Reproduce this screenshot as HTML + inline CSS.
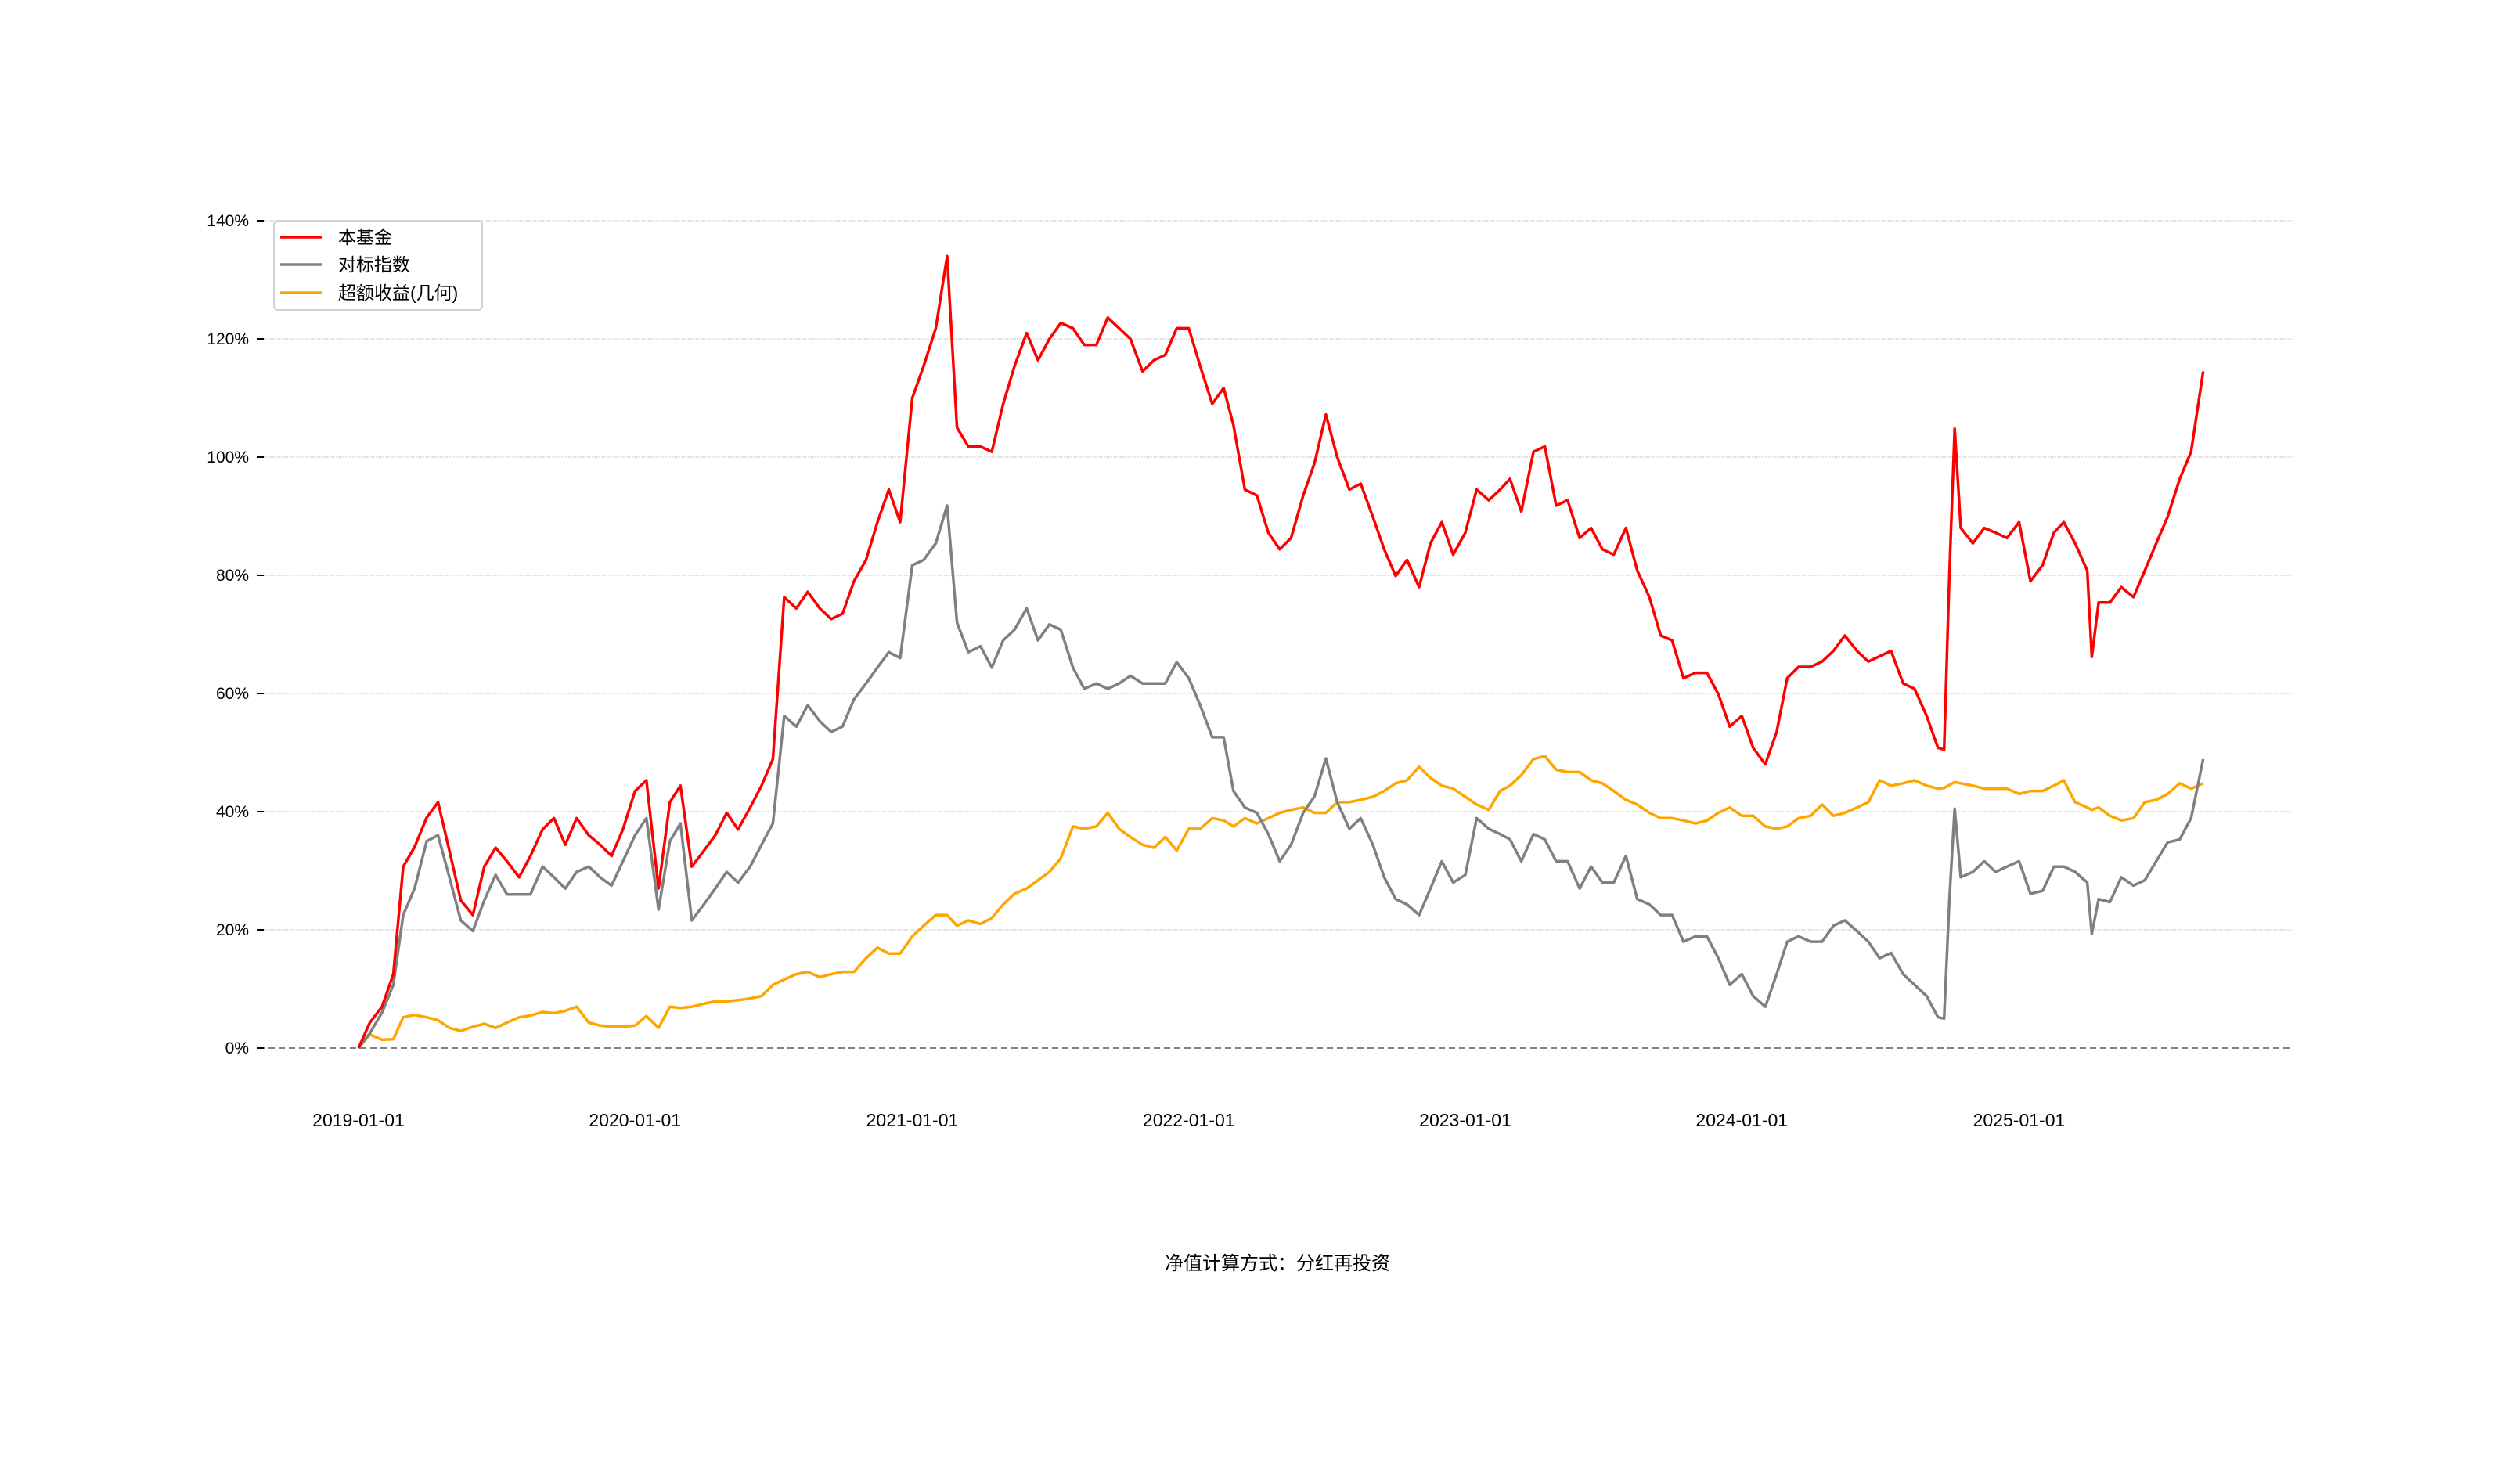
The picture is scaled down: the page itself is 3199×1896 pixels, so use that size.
<!DOCTYPE html>
<html><head><meta charset="utf-8"><style>
html,body{margin:0;padding:0;background:#fff;}
svg{display:block;font-family:"Liberation Sans","Noto Sans CJK SC",sans-serif;}
</style></head><body>
<svg id="chart" width="3199" height="1896" viewBox="0 0 3199 1896" xmlns="http://www.w3.org/2000/svg">
<rect width="3199" height="1896" fill="#fff"/>
<g id="grid"></g><g id="yaxis"></g><g id="xaxis"></g><g id="series"></g>
<g>
<rect x="350" y="282" width="266" height="114" rx="5" fill="#fff" fill-opacity="0.8" stroke="#d0d0d0" stroke-width="2"/>
<g><line x1="358" y1="303" x2="412" y2="303" stroke="#ff0000" stroke-width="3.5"/><text x="432" y="311" font-size="23">本基金</text></g>
<g><line x1="358" y1="338" x2="412" y2="338" stroke="#808080" stroke-width="3.5"/><text x="432" y="346" font-size="23">对标指数</text></g>
<g><line x1="358" y1="374" x2="412" y2="374" stroke="#ffa500" stroke-width="3.5"/><text x="432" y="382" font-size="23">超额收益(几何)</text></g>
</g>
<text x="1632" y="1622" font-size="24" text-anchor="middle">净值计算方式：分红再投资</text>
</svg>
<script>
const dates=["2019-01-01","2019-01-16","2019-02-01","2019-02-16","2019-03-01","2019-03-16","2019-04-01","2019-04-16","2019-05-01","2019-05-16","2019-06-01","2019-06-16","2019-07-01","2019-07-16","2019-08-01","2019-08-16","2019-09-01","2019-09-16","2019-10-01","2019-10-16","2019-11-01","2019-11-16","2019-12-01","2019-12-16",
"2020-01-01","2020-01-16","2020-02-01","2020-02-16","2020-03-01","2020-03-16","2020-04-01","2020-04-16","2020-05-01","2020-05-16","2020-06-01","2020-06-16","2020-07-01","2020-07-16","2020-08-01","2020-08-16","2020-09-01","2020-09-16","2020-10-01","2020-10-16","2020-11-01","2020-11-16","2020-12-01","2020-12-16",
"2021-01-01","2021-01-16","2021-02-01","2021-02-16","2021-03-01","2021-03-16","2021-04-01","2021-04-16","2021-05-01","2021-05-16","2021-06-01","2021-06-16","2021-07-01","2021-07-16","2021-08-01","2021-08-16","2021-09-01","2021-09-16","2021-10-01","2021-10-16","2021-11-01","2021-11-16","2021-12-01","2021-12-16",
"2022-01-01","2022-01-16","2022-02-01","2022-02-16","2022-03-01","2022-03-16","2022-04-01","2022-04-16","2022-05-01","2022-05-16","2022-06-01","2022-06-16","2022-07-01","2022-07-16","2022-08-01","2022-08-16","2022-09-01","2022-09-16","2022-10-01","2022-10-16","2022-11-01","2022-11-16","2022-12-01","2022-12-16",
"2023-01-01","2023-01-16","2023-02-01","2023-02-16","2023-03-01","2023-03-16","2023-04-01","2023-04-16","2023-05-01","2023-05-16","2023-06-01","2023-06-16","2023-07-01","2023-07-16","2023-08-01","2023-08-16","2023-09-01","2023-09-16","2023-10-01","2023-10-16","2023-11-01","2023-11-16","2023-12-01","2023-12-16",
"2024-01-01","2024-01-16","2024-02-01","2024-02-16","2024-03-01","2024-03-16","2024-04-01","2024-04-16","2024-05-01","2024-05-16","2024-06-01","2024-06-16","2024-07-01","2024-07-16","2024-08-01","2024-08-16","2024-09-01","2024-09-16","2024-09-24","2024-10-01","2024-10-08","2024-10-16","2024-11-01","2024-11-16","2024-12-01","2024-12-16",
"2025-01-01","2025-01-16","2025-02-01","2025-02-16","2025-03-01","2025-03-16","2025-04-01","2025-04-07","2025-04-16","2025-05-01","2025-05-16","2025-06-01","2025-06-16","2025-07-01","2025-07-16","2025-08-01","2025-08-16","2025-09-01"];
const fundValues=[0,4.3,7,12.5,30.7,34,39,41.6,33.4,25,22.5,30.7,33.9,31.6,28.9,32.5,37,38.9,34.4,38.9,36,34.4,32.5,37,
43.5,45.3,27,41.6,44.4,30.7,33.4,36,39.8,37,40.7,44.4,48.9,76.3,74.4,77.2,74.4,72.6,73.5,79,82.6,89,94.5,89,
110,115.4,121.8,134,105,101.8,101.8,100.9,109,115.4,121,116.4,120,122.7,121.8,119,119,123.6,121.8,120,114.5,116.4,117.3,121.8,
121.8,115.4,109,111.7,105.4,94.5,93.5,87.2,84.4,86.3,93.5,99,107.2,100,94.5,95.5,89.9,84.4,79.9,82.6,78,85.4,89,83.5,
87.2,94.5,92.7,94.5,96.3,90.8,100.9,101.8,91.8,92.7,86.3,88,84.4,83.5,88,80.8,76.3,69.8,69,62.6,63.5,63.5,59.9,54.4,
56.2,50.8,48,53.5,62.6,64.5,64.5,65.4,67.2,69.8,67.2,65.4,66.3,67.2,61.7,60.8,56.2,50.8,50.5,80,104.8,88,85.4,88,87.2,86.3,
89,79,81.7,87.2,89,85.4,80.8,66.2,75.4,75.4,78,76.3,80.8,85.4,89.9,96.3,100.9,114.5];
const indexValues=[0,2.5,6,10.7,22.5,27,35,36,28.9,21.6,19.8,25,29.3,26,26,26,30.7,28.9,27,29.8,30.7,28.9,27.5,31.6,
36,38.9,23.4,35,38,21.6,24.3,27,29.8,28,30.7,34.4,38,56.2,54.4,58,55.3,53.5,54.4,59,61.7,64.4,67,66,
81.7,82.6,85.4,91.8,72,67,68,64.4,69,70.8,74.4,69,71.7,70.8,64.4,60.8,61.7,60.8,61.7,63,61.7,61.7,61.7,65.3,
62.6,58,52.6,52.6,43.5,40.7,39.8,36.2,31.6,34.4,39.8,42.6,49,41.6,37.1,38.9,34.4,28.9,25.2,24.3,22.5,27,31.6,28,
29.3,38.9,37.1,36.2,35.3,31.6,36.2,35.3,31.6,31.6,27,30.7,28,28,32.5,25.2,24.3,22.5,22.5,18,18.9,18.9,15.2,10.7,
12.5,8.8,7,12.5,18,18.9,18,18,20.7,21.6,19.8,18,15.2,16.1,12.5,10.7,8.8,5.2,5,25,40.5,28.9,29.8,31.6,29.8,30.7,
31.6,26.1,26.6,30.7,30.7,29.8,28,19.3,25.2,24.7,28.9,27.5,28.4,31.6,34.8,35.3,38.9,48.9];
const excessValues=[0,2.3,1.4,1.5,5.2,5.6,5.2,4.7,3.4,2.9,3.6,4.1,3.4,4.3,5.2,5.5,6.1,5.9,6.3,7,4.3,3.8,3.6,3.6,
3.8,5.4,3.4,7,6.8,7,7.5,7.9,7.9,8.1,8.4,8.8,10.7,11.6,12.5,12.9,12,12.5,12.9,12.9,15.2,17,16,16,
18.9,20.7,22.5,22.5,20.7,21.6,21,22,24.3,26.1,27,28.4,29.8,32.1,37.5,37.1,37.5,39.8,37.1,35.7,34.4,33.9,35.7,33.4,
37.1,37.1,38.9,38.5,37.5,38.9,38,38.9,39.8,40.3,40.7,39.8,39.8,41.6,41.6,42,42.5,43.5,44.8,45.3,47.6,45.7,44.4,43.9,
42.5,41.2,40.3,43.5,44.4,46.2,48.9,49.4,47.1,46.7,46.7,45.3,44.8,43.5,42,41.2,39.8,38.9,38.9,38.5,38,38.5,39.8,40.7,
39.3,39.3,37.5,37.1,37.5,38.9,39.3,41.2,39.3,39.8,40.7,41.6,45.3,44.4,44.8,45.3,44.4,43.9,44,44.5,45,44.8,44.4,43.9,43.9,43.9,
43,43.5,43.5,44.4,45.3,41.6,40.7,40.3,40.7,39.3,38.5,38.9,41.6,42,43,44.8,43.9,44.8];
const yTicks=[0,20,40,60,80,100,120,140];
const yTickLabels=["0%","20%","40%","60%","80%","100%","120%","140%"];
const xTicks=["2019-01-01","2020-01-01","2021-01-01","2022-01-01","2023-01-01","2024-01-01","2025-01-01"];

const NS="http://www.w3.org/2000/svg";
const T0=Date.UTC(2019,0,1);
function xScale(d){const p=d.split("-").map(Number);const t=Date.UTC(p[0],p[1]-1,p[2]);return 458+(t-T0)/86400000*353.5/365.25;}
function yScale(v){return 1339-v*7.55;}
function mk(tag,attrs,parent){const e=document.createElementNS(NS,tag);for(const k in attrs)e.setAttribute(k,attrs[k]);parent.appendChild(e);return e;}
const grid=document.getElementById("grid"),ya=document.getElementById("yaxis"),xa=document.getElementById("xaxis"),sg=document.getElementById("series");
yTicks.forEach((v,i)=>{
  const y=yScale(v);
  if(v===0){
    const l=mk("line",{x1:330,x2:2929,y1:y,y2:y,stroke:"#808080","stroke-width":2,"stroke-dasharray":"8,5"},grid);
    
    
  }else{
    const l=mk("line",{x1:330,x2:2929,y1:y,y2:y,stroke:"#e3e3e3","stroke-width":2,"stroke-dasharray":"2,1"},grid);
    
    
  }
  const tk=mk("line",{x1:328,x2:337,y1:y,y2:y,stroke:"#000","stroke-width":2},ya);
  
  
  const t=mk("text",{x:318,y:y+7,"font-size":21,"text-anchor":"end"},ya);
  t.textContent=yTickLabels[i];
  
  
});
xTicks.forEach(d=>{
  const t=mk("text",{x:xScale(d),y:1439,"font-size":23,"text-anchor":"middle"},xa);
  t.textContent=d;
  
  
});
function drawSeries(vals,color,name){
  const pts=[];
  vals.forEach((v,i)=>{ if(dates[i]!==undefined) pts.push(xScale(dates[i]).toFixed(1)+","+yScale(v).toFixed(1)); });
  const p=mk("polyline",{points:pts.join(" "),fill:"none",stroke:color,"stroke-width":3.5,"stroke-linejoin":"round"},sg);
  
  
}
drawSeries(excessValues,"#ffa500","excess-return-line");
drawSeries(indexValues,"#808080","benchmark-index-line");
drawSeries(fundValues,"#ff0000","fund-line");
</script>
</body></html>
